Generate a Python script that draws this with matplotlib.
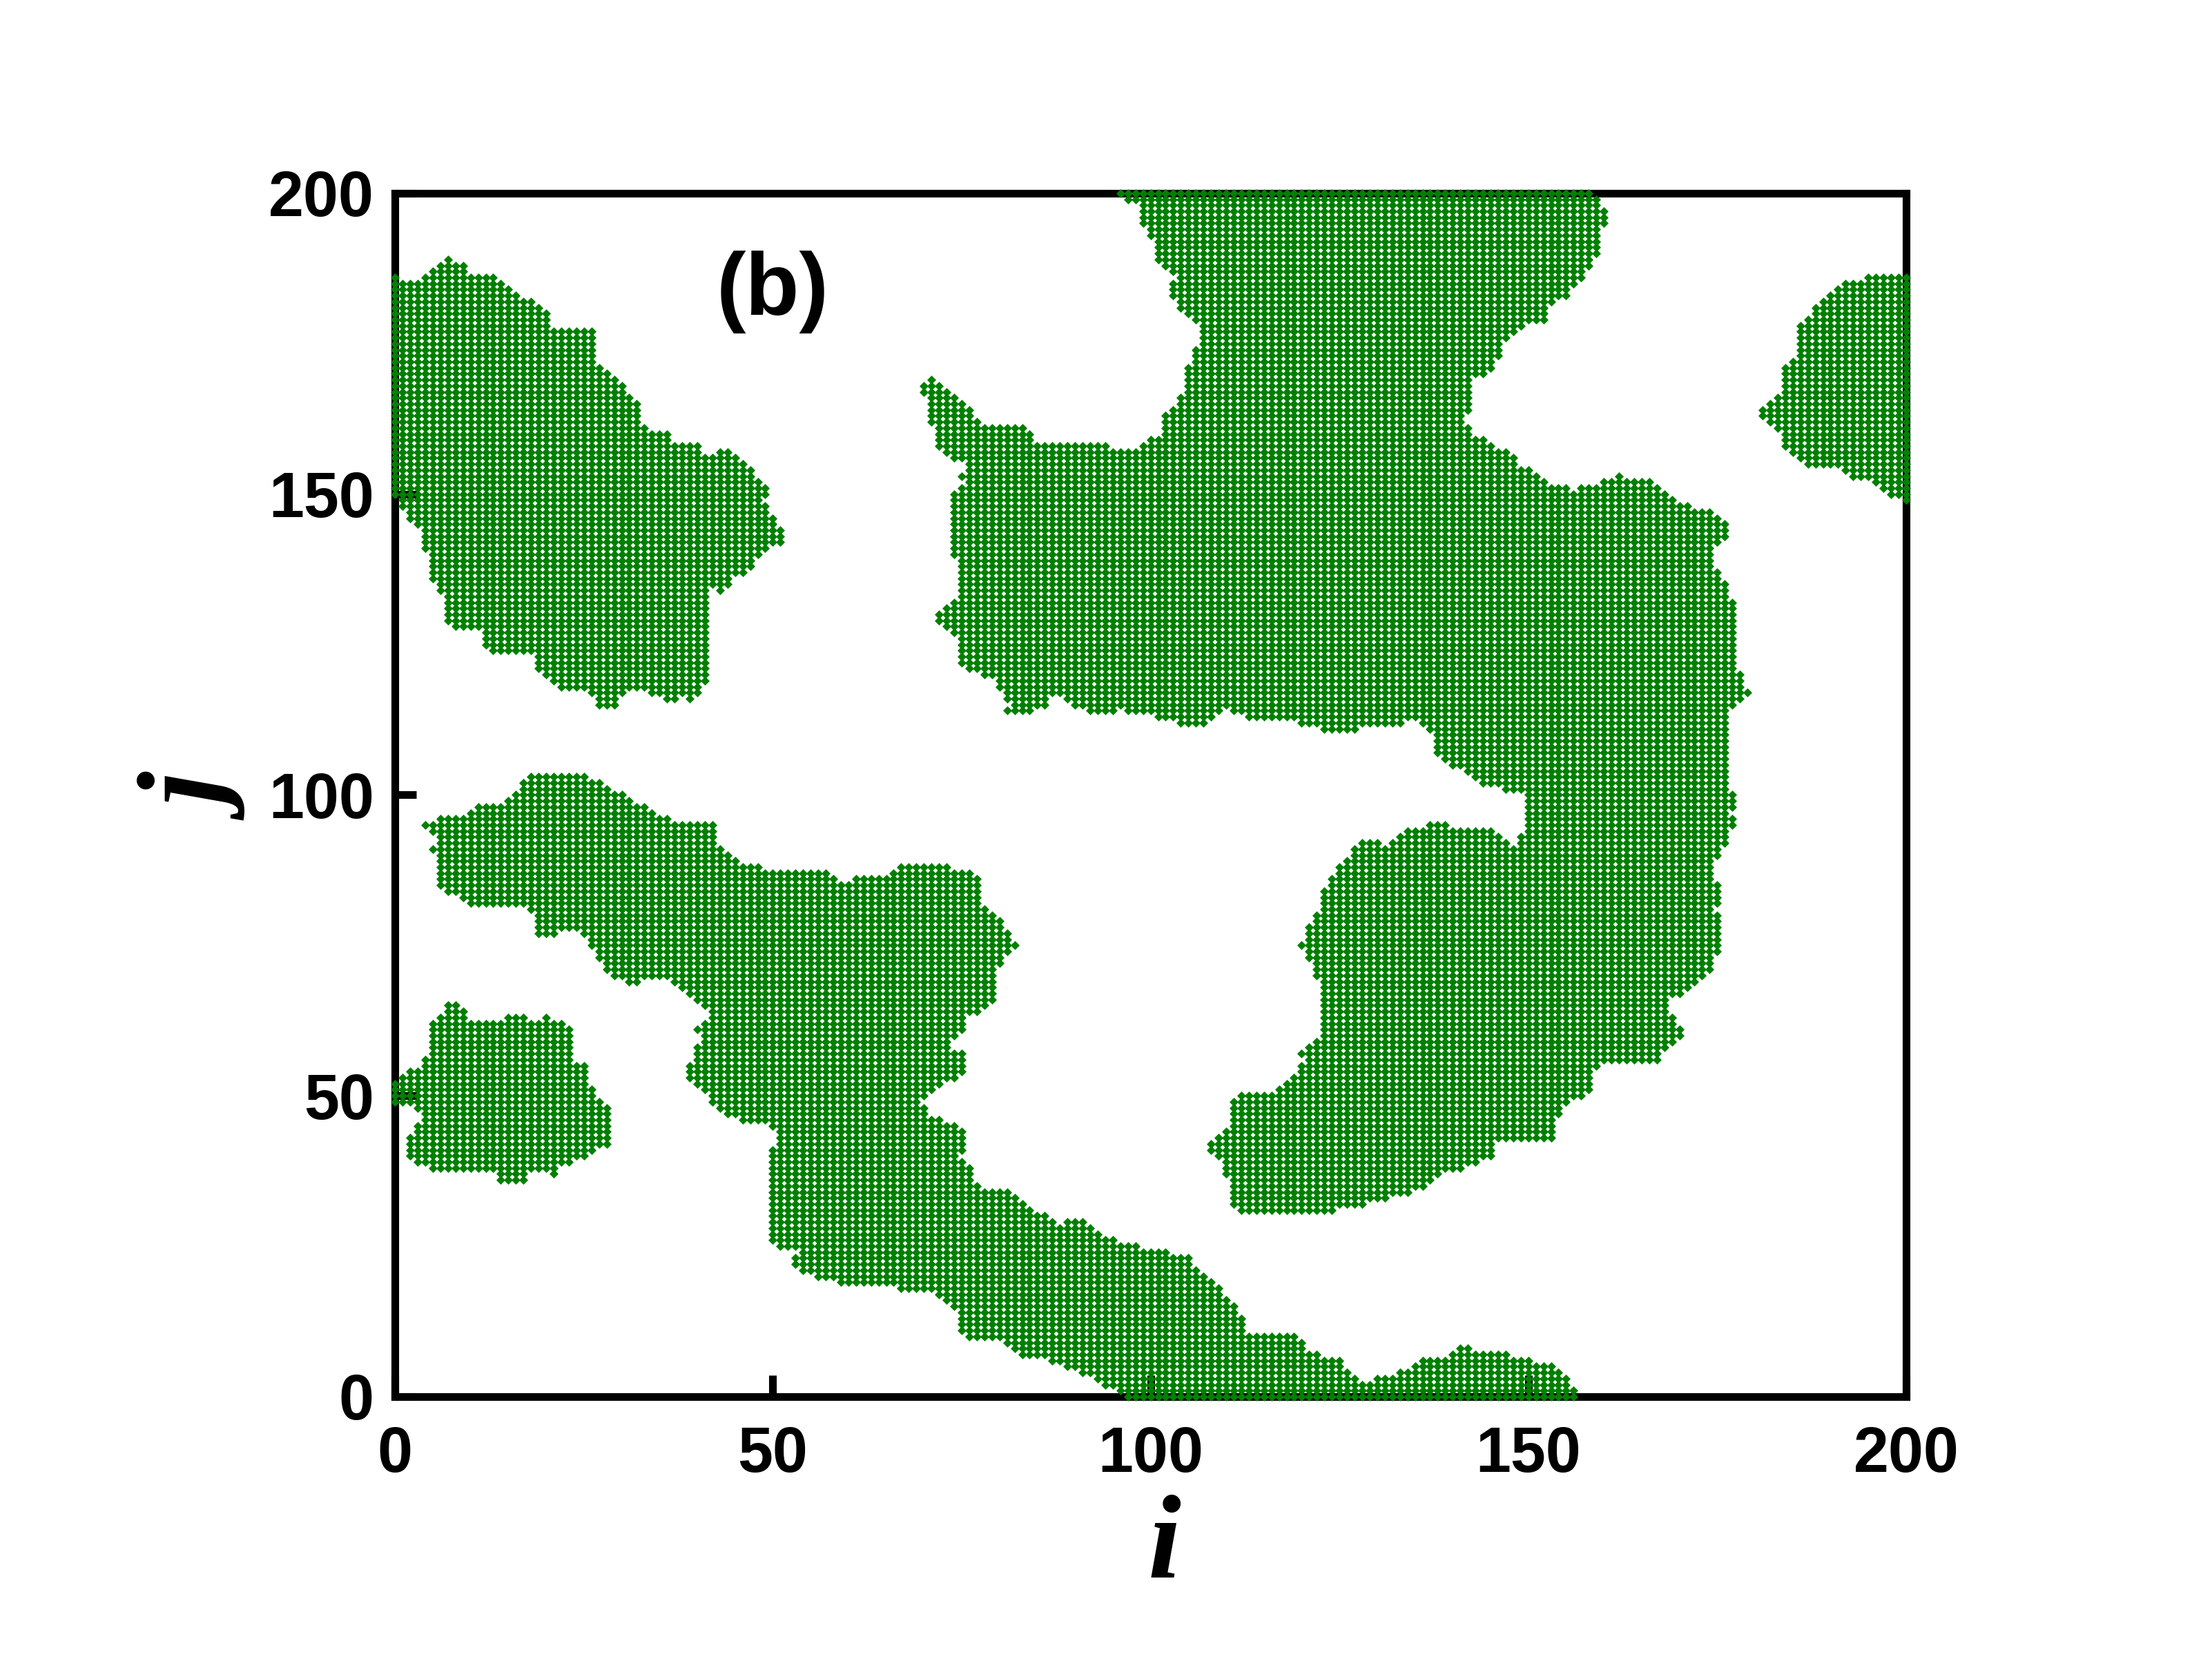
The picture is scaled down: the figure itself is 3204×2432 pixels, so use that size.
import matplotlib
matplotlib.use("Agg")
import matplotlib.pyplot as plt
import numpy as np
from matplotlib.path import Path

L = 200  # lattice sites run 0..L in i and j

# Outlines (i, j) traced round each occupied cluster of the lattice.
cluster_nw = [(-1, 186), (0.6, 186), (2.8, 185.3), (4.5, 187.2), (7.1, 189.2), (8.2, 188.9), (9.2, 187.9),
              (10.1, 186), (13.1, 186), (15.3, 184), (17.9, 182.4), (19.2, 180.8), (20.2, 179.8), (20.5, 177.3),
              (24.8, 177.9), (26.1, 177.9), (27.1, 176.6), (26.5, 175.7), (26.5, 173.4), (27.4, 170.8),
              (28.2, 169.9), (29.9, 168.9), (30.4, 167), (32.1, 165.7), (32.3, 162.5), (33.4, 160.5), (36, 160.9),
              (36.6, 158.6), (40.3, 158), (40.9, 156), (42.9, 157.3), (45.5, 156.7), (46.3, 155.4), (48, 154.1),
              (48, 152.1), (50, 150.5), (48.9, 148.9), (49.1, 147.6), (50.2, 145.7), (51.3, 144.4), (51.3, 142.2),
              (49.8, 140.9), (48, 139.6), (46.8, 137.3), (45.9, 136.4), (44.6, 136.1), (44.2, 134.8), (43.3, 133.5),
              (42, 134.1), (41.8, 132.8), (42, 130.3), (42, 127), (41.6, 125.4), (42, 123.8), (42, 120.6),
              (41.4, 118.7), (39.4, 115.4), (37.7, 116.4), (36, 115.4), (34.3, 116.7), (32.7, 117.4), (30.8, 118),
              (29.5, 116.1), (29.1, 114.5), (26.9, 114.5), (26.5, 116.1), (25.6, 117.4), (21.8, 117.4),
              (20.5, 119.3), (18.7, 120.6), (18.3, 123.2), (16.1, 123.2), (12.7, 123.5), (11, 124.8), (11.6, 127),
              (9.2, 127.4), (6.9, 128.3), (6.7, 132.2), (5.8, 133.5), (4.7, 136.7), (4.5, 139.3), (3.9, 140.6),
              (3.6, 143.1), (3, 144.4), (1.7, 146.4), (0.8, 147.6), (0.6, 149.6), (-1, 149.6)]

cluster_big = [(95.4, 201), (157.5, 201), (161.1, 196.3), (159.8, 194.7), (160, 191.8), (158.9, 188.9),
               (157.8, 186.6), (156.2, 184.4), (154.9, 182.4), (152.5, 181.8), (152.2, 178.9), (150, 178.2),
               (147.8, 176.3), (146.5, 174.7), (146, 172.4), (144.7, 169.5), (142.9, 169.2), (142.3, 167),
               (142.3, 163.7), (141.6, 162.5), (142.5, 160.5), (143.8, 159.2), (145.6, 158), (148, 156.7),
               (148.2, 154.4), (150.9, 153.8), (153.1, 151.8), (155.8, 150.9), (158.9, 151.8), (161.5, 153.1),
               (165.1, 152.8), (167.7, 150.9), (170, 148.9), (172.2, 147.6), (174.4, 147), (176.1, 145.1),
               (176.1, 142.5), (174.4, 141.2), (174.2, 138.3), (176.1, 135.4), (177, 132.8), (177.3, 127.7),
               (177, 121.9), (178.4, 120.6), (179.2, 116.7), (177.5, 115.4), (176.6, 113.5), (176.4, 109),
               (177, 106.4), (177, 100.6), (178.4, 99.7), (176.6, 97.4), (177.3, 95), (176.1, 91.4), (174.4, 88.1),
               (175.1, 85.5), (176.1, 83.5), (174.8, 81.5), (175.5, 79.6), (175.5, 75.6), (176.1, 74.6),
               (174.4, 72.3), (173.9, 70), (172.2, 68.4), (170.4, 67.1), (168.6, 65.7), (169.1, 63.1),
               (170.8, 60.5), (169.1, 58.5), (167.3, 56.5), (167.3, 55.2), (159.8, 55.2), (158.4, 53.2),
               (158.2, 50.6), (155.8, 49.3), (154.4, 48), (154, 46), (153.1, 43.3), (152.7, 42), (145.6, 42),
               (145.1, 39.7), (142.5, 38.1), (139.4, 37.7), (138, 36.4), (135.8, 34.5), (133.2, 33.5),
               (129.9, 32.5), (126.4, 31.2), (118.2, 30.5), (111.5, 30.5), (110.7, 32.2), (110.9, 33.8),
               (110, 36.1), (109.6, 38.7), (107.6, 40.7), (108.3, 43.3), (110.4, 45.3), (110.4, 48.9),
               (112.2, 50.6), (116, 50.9), (117.3, 52.2), (119.5, 54.2), (120.4, 55.9), (119.5, 57.2),
               (120.8, 58.8), (122.5, 59.2), (122.5, 61.8), (122.1, 68.4), (121.7, 71.7), (120.4, 73.6),
               (119.5, 74.6), (120.6, 76.3), (120.8, 78.2), (121.9, 79.9), (122.5, 82.2), (123.4, 85.5),
               (125.5, 88.8), (127.7, 92.7), (129.4, 92.7), (131.1, 91.8), (133.4, 94.1), (135, 94.1),
               (138.9, 96), (140.3, 94.4), (144.3, 94.4), (145.6, 95), (146.5, 92.7), (147.8, 91.4),
               (148.7, 93.1), (149.8, 94.7), (149.4, 96.4), (149.1, 100), (148.2, 100.3), (145.6, 101.3),
               (142.5, 102.6), (141.2, 103.9), (139.4, 105.1), (137.6, 106.4), (137.6, 109.6), (135, 112.2),
               (129.4, 111.6), (126, 110.3), (122.9, 110.6), (121.7, 111.6), (118.2, 112.2), (115.2, 112.9),
               (113, 112.5), (110, 114.2), (108.7, 112.9), (107.9, 111.9), (104.8, 111.6), (101.8, 112.5),
               (99.2, 113.5), (95.8, 114.2), (92.8, 113.2), (89.7, 114.8), (87.6, 117.1), (85.9, 114.8),
               (83.7, 113.2), (80.7, 113.5), (81.3, 115.4), (79.8, 117.4), (79.4, 119), (75.9, 120.6),
               (74.7, 121.9), (74.7, 125.1), (73.6, 127), (70.8, 129.6), (72.1, 130.9), (73.6, 131.9),
               (74.7, 133.5), (74.7, 136.1), (73.6, 141.9), (73.6, 149.6), (75.3, 151.5), (74.7, 153.1),
               (75.5, 155), (73.8, 155.4), (72.7, 156.7), (71.6, 158), (71, 161.8), (69.9, 163.7), (70.8, 165),
               (69.7, 167.3), (68.6, 168.6), (71.2, 169.2), (72.5, 167.6), (74.7, 166), (76.2, 163.7),
               (77.2, 162.5), (79, 161.2), (80.9, 161.8), (84.1, 160.9), (84.6, 158.3), (88, 158.9), (89.7, 158),
               (94.9, 158), (96.6, 157), (97.9, 157.6), (100.1, 159.2), (101.8, 160.5), (101.8, 163.7),
               (103.1, 165), (104.4, 167), (104.6, 170.2), (105.3, 172.8), (106.1, 175.3), (106.1, 177.9),
               (104.8, 179.8), (103.1, 181.8), (102.7, 184.4), (103.5, 186.3), (101.4, 187.3), (100.5, 189.5),
               (100.1, 192.7), (98.8, 195), (98.4, 198.2), (96.2, 199.2)]

cluster_west = [(3.6, 94.7), (4.5, 95.7), (7.1, 97), (8.8, 96.7), (10.1, 98), (13.6, 98.3), (15.3, 99.7),
                (17.7, 103.6), (22.4, 103.9), (26.1, 102.7), (29, 100.8), (31.7, 99), (33.4, 98.7), (35.1, 96.7),
                (36.8, 96), (42.5, 95.7), (42.5, 92.7), (43.7, 90.4), (45.9, 88.8), (48.5, 88.1), (50.2, 87.1),
                (52.8, 87.8), (56.3, 87.8), (58, 86.8), (59.3, 85.2), (61, 86.1), (63.1, 86.8), (66.5, 87.1),
                (66.9, 88.8), (68.2, 88.1), (73.4, 88.1), (77.2, 86.8), (77.2, 82.2), (79, 80.9), (80.3, 78.9),
                (81.6, 76.9), (82.2, 74.6), (80.3, 72.3), (79, 69.7), (79.4, 65.7), (78.1, 64.4), (75.5, 63.1),
                (75.1, 60.5), (73.4, 59.2), (72.5, 58.2), (74.7, 57.5), (76.4, 56.5), (75.1, 55.2), (76, 53.6),
                (74.2, 52.6), (71.2, 51.2), (69.7, 49.3), (70.3, 47.3), (72.9, 46), (75.1, 44.7), (76, 41.4),
                (74.2, 39.7), (76, 38.7), (76.4, 35.1), (79.8, 34.8), (82, 33.5), (82.8, 32.5), (84.6, 31.2),
                (86.3, 30.2), (88, 28.5), (89.7, 29.5), (91.5, 29.2), (93.2, 26.9), (95.8, 25.9), (98.4, 24.9),
                (101, 24.2), (104.8, 23.6), (105.3, 22.3), (106.6, 20.3), (108.7, 19), (109.2, 18), (110.9, 15.7),
                (112.2, 13.4), (112.6, 10.4), (115.6, 10.1), (117.3, 10.7), (119.9, 9.8), (120.8, 8.1),
                (122.9, 6.5), (124.7, 6.5), (126, 4.5), (127.3, 3.2), (127.7, 1.9), (129, 2.8), (133.6, 4.5),
                (135.8, 6.1), (138.5, 6.1), (140.7, 8.1), (142.9, 8.1), (143.8, 7.1), (147.8, 7.1), (149.6, 6.1),
                (151.8, 5.8), (154, 4.8), (155.3, 2.5), (156.4, 0.5), (156.4, -1), (96.6, -1), (95.8, 0.9),
                (94.1, 1.5), (93.2, 2.5), (91, 3.5), (89.3, 4.5), (88, 5.5), (86.7, 6.1), (84.6, 6.5), (82.8, 6.1),
                (81.6, 7.8), (80.7, 9.1), (79.8, 9.4), (77.7, 9.8), (75.1, 9.4), (74.7, 12.4), (73.8, 14.7),
                (72.9, 16), (70.8, 17.3), (68.6, 17.3), (65.6, 18.3), (62.3, 19), (58.8, 18.3), (57.5, 19.6),
                (55.8, 19.3), (54.5, 20.6), (52.8, 21.6), (52.8, 22.9), (53.7, 24.6), (50.6, 24.9), (49.6, 25.9),
                (49.8, 29.5), (49.6, 37.4), (50, 41.7), (50.6, 43.3), (48.9, 45.6), (45.5, 46), (43.7, 46.3),
                (42.5, 48), (41, 49.3), (41, 50.6), (39.6, 51.9), (38.8, 53.2), (39, 55.9), (39.4, 57.2),
                (40.3, 58.8), (39.9, 61.5), (41.6, 63.4), (40.5, 64.7), (38.6, 67.1), (36.8, 69), (35.6, 69.7),
                (33.4, 69.7), (31.2, 68.4), (29.9, 69.4), (27.6, 70.3), (27.4, 72.3), (26.5, 73.6), (25.6, 75),
                (25.2, 76.9), (23.1, 77.3), (21.3, 76.9), (20.7, 75.9), (18.7, 76.3), (18.5, 79.6), (17.9, 81.2),
                (16.6, 81.9), (13.6, 81.5), (9.9, 81.2), (8.8, 82.2), (7.5, 83.5), (5.8, 84.2), (5.6, 86.2),
                (5.6, 90.1), (4.7, 91.4), (5.4, 92.7)]

cluster_sw = [(6.7, 65.1), (8.2, 65.1), (9.3, 63.8), (10.5, 62.1), (13.1, 62.1), (14.9, 63.1), (17, 63.1),
              (18.3, 61.8), (20, 63.1), (21.3, 62.8), (23.1, 61.1), (23.5, 58.5), (23.9, 55.9), (25.2, 55.9),
              (25.4, 52.6), (26.5, 50.6), (27.8, 48.9), (28.7, 47.3), (28.2, 45.6), (28.7, 43.3), (28.2, 42),
              (26.5, 40.7), (25.6, 39.7), (23.5, 39.1), (21.8, 38.1), (20.9, 36.4), (20, 37.1), (17.9, 37.1),
              (17, 35.4), (14.4, 35.1), (13.8, 35.8), (13.6, 37.4), (5.8, 37.4), (3.2, 38.7), (1.7, 39.7),
              (1.7, 41.7), (1.9, 43.7), (3.2, 46), (3.9, 47), (2.8, 48), (-1, 48.3), (-1, 51.9), (1.7, 53.9),
              (3.6, 55.5), (4.9, 57.8), (4.9, 59.2), (4.7, 60.5), (4.5, 62.5), (6, 63.8)]

cluster_east = [(201, 186.3), (197.9, 186), (194.7, 186), (193.4, 185.3), (191.6, 185), (190.3, 184),
                (189, 182.4), (187.7, 181.1), (186.8, 179.2), (185.4, 177.9), (186.1, 176.3), (185.4, 175.3),
                (186.1, 173.4), (184.6, 172.8), (183.7, 171.5), (183.5, 168.9), (183.5, 166.3), (182.3, 166),
                (181, 164.4), (180.4, 163.1), (181, 162.1), (182.3, 161.5), (183.5, 160.2), (183.7, 158.6),
                (183.7, 157.3), (185.4, 155.7), (187.7, 154.4), (191.2, 154.1), (192.5, 152.8), (195.2, 152.2),
                (196.5, 151.2), (198.3, 149.6), (201, 148.3)]

clusters = [cluster_nw, cluster_big, cluster_west, cluster_sw, cluster_east]

ticks = [0, 50, 100, 150, 200]
panel_label = "(b)"


def occupied_sites(outlines, size):
    ii, jj = np.meshgrid(np.arange(size + 1), np.arange(size + 1))
    pts = np.column_stack([ii.ravel(), jj.ravel()])
    mask = np.zeros(len(pts), dtype=bool)
    for outline in outlines:
        mask |= Path(np.asarray(outline, dtype=float)).contains_points(pts)
    return pts[mask]


sites = occupied_sites(clusters, L)

fig = plt.figure(figsize=(16.02, 12.16), dpi=200)
ax = fig.add_axes([0.1786, 0.1682, 0.6831, 0.7167])

ax.scatter(sites[:, 0], sites[:, 1], marker="D", s=11, color="#008000",
           linewidths=0, clip_on=False, zorder=3)

ax.set_xlim(0, L)
ax.set_ylim(0, L)
ax.set_xticks(ticks)
ax.set_yticks(ticks)
for sp in ax.spines.values():
    sp.set_linewidth(4)
ax.tick_params(direction="in", length=11, width=4, top=False, right=False)
ax.tick_params(axis="x", pad=15)
ax.tick_params(axis="y", pad=11)
for lab in ax.get_xticklabels() + ax.get_yticklabels():
    lab.set_fontfamily("Liberation Sans")
    lab.set_fontweight("bold")
    lab.set_fontsize(33)

ax.text(0.509, -0.150, "i", transform=ax.transAxes, ha="center", va="baseline",
        family="Liberation Serif", style="italic", weight="bold", fontsize=62)
ax.text(-0.106, 0.493, "j", transform=ax.transAxes, ha="center", va="baseline",
        rotation=90, rotation_mode="anchor",
        family="Liberation Serif", style="italic", weight="bold", fontsize=62)

ax.text(0.250, 0.918, panel_label, transform=ax.transAxes, ha="center", va="center",
        family="Liberation Sans", weight="bold", fontsize=46, zorder=4)

fig.savefig("out.png", dpi=200)
